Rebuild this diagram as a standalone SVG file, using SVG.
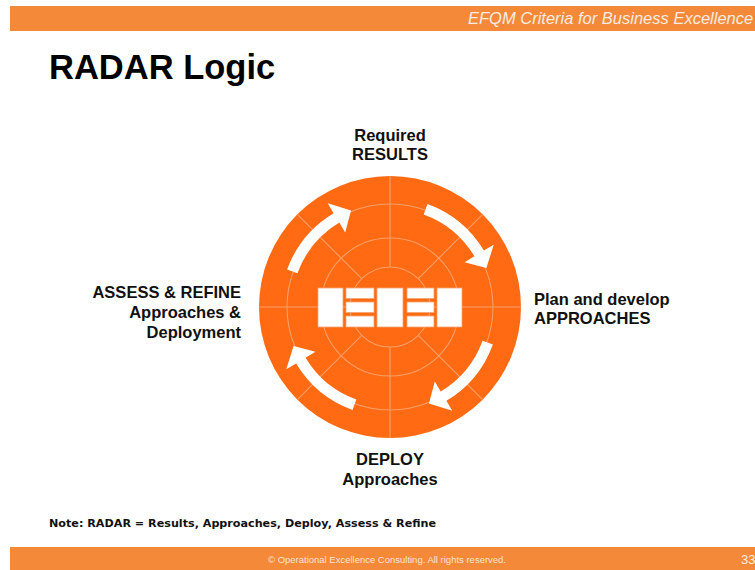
<svg xmlns="http://www.w3.org/2000/svg" xmlns:xlink="http://www.w3.org/1999/xlink" width="755" height="570" viewBox="0 0 755 570">
<style>
.bar{fill:#F5893A}
.lbl{font-family:"Liberation Sans",Arial,sans-serif;font-weight:bold;font-size:16.5px;fill:#111}
.grid{stroke:#F8A06A;stroke-width:1.1;fill:none}
.blk{fill:#FFFFFF;stroke:#F5A575;stroke-width:0.8}
.arw{fill:#FFFFFF}
</style>
<defs>
<path id="arc-arrow" class="arw" d="M37.45,-102.90 A109.5,109.5 0 0 1 93.86,-56.39 L103.72,-62.32 L96.43,-38.96 L74.58,-44.81 L84.43,-50.73 A98.5,98.5 0 0 0 33.69,-92.56 Z"/>
</defs>
<rect width="755" height="570" fill="#FFFFFF"/>
<g id="header">
<rect class="bar" x="10" y="6" width="745" height="25"/>
<text x="468" y="24" font-family="'Liberation Sans',Arial,sans-serif" font-style="italic" font-size="16.5" fill="#F8ECE2">EFQM Criteria for Business Excellence</text>
</g>
<g id="title">
<text x="49" y="79" font-family="'Liberation Sans',Arial,sans-serif" font-weight="bold" font-size="34.5" fill="#000">RADAR Logic</text>
</g>
<g id="radar-wheel">
<circle cx="390" cy="307" r="131" fill="#FF6A12"/>
<g transform="translate(390,307)" class="grid">
<circle r="40"/>
<circle r="69"/>
<circle r="103"/>
<line x1="0" y1="-40" x2="0" y2="-131"/>
<line x1="0" y1="40" x2="0" y2="131"/>
<line x1="-40" y1="0" x2="-131" y2="0"/>
<line x1="40" y1="0" x2="131" y2="0"/>
<line x1="28.28" y1="-28.28" x2="92.63" y2="-92.63"/>
<line x1="-28.28" y1="-28.28" x2="-92.63" y2="-92.63"/>
<line x1="28.28" y1="28.28" x2="92.63" y2="92.63"/>
<line x1="-28.28" y1="28.28" x2="-92.63" y2="92.63"/>
</g>
<g id="center-blocks">
<rect class="blk" x="318" y="288" width="25" height="39"/>
<rect class="blk" x="346" y="288" width="28" height="10.5"/>
<rect class="blk" x="346" y="302" width="28" height="10.5"/>
<rect class="blk" x="346" y="316" width="28" height="11"/>
<rect class="blk" x="377" y="288" width="26" height="39"/>
<rect class="blk" x="407" y="288" width="27" height="10.5"/>
<rect class="blk" x="407" y="302" width="27" height="10.5"/>
<rect class="blk" x="407" y="316" width="27" height="11"/>
<rect class="blk" x="437" y="288" width="25" height="39"/>
</g>
</g>
<g id="connectors" transform="translate(390,307)">
<use xlink:href="#arc-arrow" href="#arc-arrow"/>
<use xlink:href="#arc-arrow" href="#arc-arrow" transform="rotate(90)"/>
<use xlink:href="#arc-arrow" href="#arc-arrow" transform="rotate(180)"/>
<use xlink:href="#arc-arrow" href="#arc-arrow" transform="rotate(270)"/>
</g>
<g id="label-results">
<text class="lbl" x="390" y="141" text-anchor="middle">Required</text>
<text class="lbl" x="390" y="160" text-anchor="middle">RESULTS</text>
</g>
<g id="label-approaches">
<text class="lbl" x="534" y="305">Plan and develop</text>
<text class="lbl" x="534" y="324">APPROACHES</text>
</g>
<g id="label-deploy">
<text class="lbl" x="390" y="465" text-anchor="middle">DEPLOY</text>
<text class="lbl" x="390" y="485" text-anchor="middle">Approaches</text>
</g>
<g id="label-assess">
<text class="lbl" x="241" y="298" text-anchor="end">ASSESS &amp; REFINE</text>
<text class="lbl" x="241" y="318" text-anchor="end">Approaches &amp;</text>
<text class="lbl" x="241" y="338" text-anchor="end">Deployment</text>
</g>
<g id="note">
<text x="49" y="527" font-family="'DejaVu Sans',Verdana,sans-serif" font-weight="bold" font-size="10.5" fill="#111" textLength="387" lengthAdjust="spacingAndGlyphs">Note: RADAR = Results, Approaches, Deploy, Assess &amp; Refine</text>
</g>
<g id="footer">
<rect class="bar" x="10" y="547" width="745" height="23"/>
<text x="268" y="563" font-family="'Liberation Sans',Arial,sans-serif" font-size="8.5" fill="#FBE3D2" textLength="238" lengthAdjust="spacingAndGlyphs">© Operational Excellence Consulting.  All rights reserved.</text>
<text x="741" y="564" font-family="'Liberation Sans',Arial,sans-serif" font-size="13" fill="#FBEDE3">33</text>
</g>
</svg>
